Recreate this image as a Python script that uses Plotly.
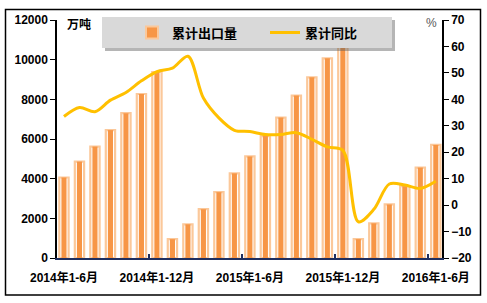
import plotly.graph_objects as go

categories = (
    ["2014年1-%d月" % m for m in range(6, 13)]
    + ["2015年1-%d月" % m for m in range(1, 13)]
    + ["2016年1-%d月" % m for m in range(1, 7)]
)
export_volume = [4060, 4860, 5620, 6450, 7300, 8270, 9378,
                 950, 1700, 2460, 3320, 4270, 5120, 6150, 7080, 8190, 9110, 10070, 11240,
                 950, 1750, 2700, 3620, 4560, 5700]
yoy_growth = [33.5, 36.9, 35.3, 39.7, 42.6, 47.0, 50.5,
              51.8, 56.3, 40.5, 33.0, 28.3, 27.8, 26.7, 26.7, 27.4, 24.9, 22.0, 20.7,
              -6.3, -1.6, 8.0, 7.6, 6.3, 9.0]
tick_labels = ["2014年1-6月", "2014年1-12月", "2015年1-6月", "2015年1-12月", "2016年1-6月"]

idx = list(range(len(categories)))
tick_idx = [categories.index(t) for t in tick_labels]

FONT = "Liberation Sans, Arial, Noto Sans CJK SC"
ORANGE = "#F79646"
LIGHT = "#FBC89A"
LINE = "#FFC000"
NAVY = "#1F2F5F"

fig = go.Figure()
fig.add_trace(go.Bar(x=idx, y=export_volume, width=0.6, marker=dict(color="white", line=dict(color=LIGHT, width=2.2)),
                     showlegend=False, hoverinfo="skip"))
fig.add_trace(go.Bar(x=idx, y=export_volume, width=0.33, marker=dict(color=ORANGE, line=dict(width=0)),
                     showlegend=False, customdata=categories))
fig.add_trace(go.Bar(x=[None], y=[None], name="累计出口量",
                     marker=dict(color=ORANGE, line=dict(color=LIGHT, width=2)), legend="legend"))
fig.add_trace(go.Scatter(x=idx, y=yoy_growth, name="累计同比", mode="lines", yaxis="y2",
                         line=dict(color=LINE, width=3, shape="spline", smoothing=0.9), legend="legend2"))

L, R, T, B = 57, 45, 20, 44.5
W, H = 487, 303
pw, ph = W - L - R, H - T - B

def px(x):
    return (x - L) / pw

def py(y):
    return (H - B - y) / ph

shapes = [
    dict(type="rect", xref="paper", yref="paper", x0=px(5.5), x1=px(480.5), y0=py(295.5), y1=py(9.5),
         line=dict(color="black", width=1.5), fillcolor="rgba(0,0,0,0)", layer="above"),
    dict(type="rect", xref="paper", yref="paper", x0=px(105), x1=px(395), y0=py(51), y1=py(20),
         line=dict(width=0), fillcolor="rgba(90,90,90,0.45)", layer="above"),
    dict(type="rect", xref="paper", yref="paper", x0=px(102), x1=px(392), y0=py(48), y1=py(17),
         line=dict(width=0), fillcolor="#D9D9D9", layer="above"),
]

fig.update_layout(
    width=W, height=H,
    margin=dict(l=L, r=R, t=T, b=B, pad=0),
    paper_bgcolor="white", plot_bgcolor="white",
    barmode="overlay",
    font=dict(family=FONT, size=12, color="black"),
    xaxis=dict(range=[-0.45, 24.4], tickmode="array", tickvals=tick_idx, ticktext=tick_labels,
               ticks="", showline=True, linecolor=NAVY, linewidth=1.5, showgrid=False, zeroline=False,
               tickfont=dict(size=12, weight="bold"), ticklabelstandoff=8,
               minor=dict(tickmode="array", tickvals=[i - 0.5 for i in tick_idx[1:]], ticks="inside",
                          ticklen=4, tickcolor=NAVY, tickwidth=1.5, showgrid=False)),
    yaxis=dict(range=[0, 12000], dtick=2000, tickformat="d", showline=True, linecolor="black", linewidth=1.5,
               ticks="outside", ticklen=5, tickcolor="black", showgrid=False, zeroline=False,
               tickfont=dict(size=12, weight="bold")),
    yaxis2=dict(range=[-20, 70], dtick=10, overlaying="y", side="right", showline=True, linecolor="black",
                linewidth=1.5, ticks="outside", ticklen=5, tickcolor="black", showgrid=False, zeroline=False,
                tickfont=dict(size=12, weight="bold")),
    legend=dict(orientation="h", x=px(132), xanchor="left", y=py(32.5), yanchor="middle",
                bgcolor="rgba(0,0,0,0)", font=dict(size=13, weight="bold", family=FONT)),
    legend2=dict(orientation="h", x=px(265), xanchor="left", y=py(32.5), yanchor="middle",
                 bgcolor="rgba(0,0,0,0)", font=dict(size=13, weight="bold", family=FONT)),
    shapes=shapes,
    annotations=[
        dict(text="万吨", xref="paper", yref="paper", x=px(78.5), y=py(25), xanchor="center", yanchor="middle",
             showarrow=False, font=dict(size=12, weight="bold")),
        dict(text="%", xref="paper", yref="paper", x=px(431), y=py(23), xanchor="center", yanchor="middle",
             showarrow=False, font=dict(size=12, color="#595959")),
    ],
)

fig.write_html("out.html")
